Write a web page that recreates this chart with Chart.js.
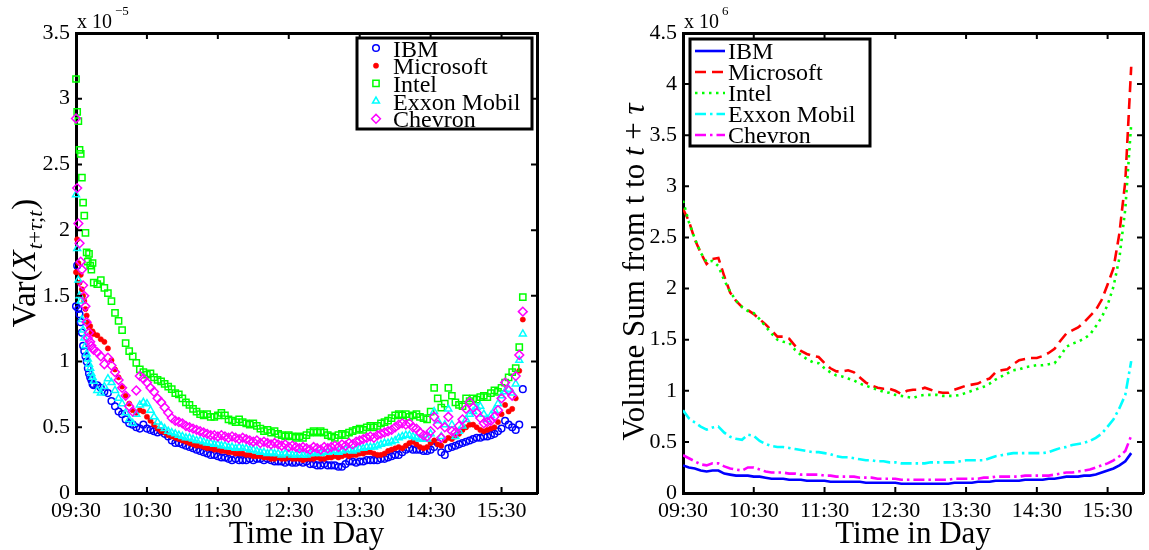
<!DOCTYPE html>
<html>
<head>
<meta charset="utf-8">
<script src="https://cdn.jsdelivr.net/npm/chart.js@4.4.0/dist/chart.umd.min.js"></script>
<style>
  html, body { margin: 0; padding: 0; background: #fff; }
  #wrap { position: relative; width: 1149px; height: 550px; overflow: hidden; }
  #left { position: absolute; left: 0; top: 0; width: 600px; height: 550px; }
  #right { position: absolute; left: 600px; top: 0; width: 549px; height: 550px; }
</style>
</head>
<body>
<div id="wrap">
  <canvas id="left" width="600" height="550"></canvas>
  <canvas id="right" width="549" height="550"></canvas>
</div>
<script>
// ---------- data ----------
const companies = ['IBM', 'Microsoft', 'Intel', 'Exxon Mobil', 'Chevron'];

const timeTickMinutes = [0, 60, 120, 180, 240, 300, 360];
const timeTickLabels  = ['09:30', '10:30', '11:30', '12:30', '13:30', '14:30', '15:30'];

const varTickValues = [0, 0.5, 1, 1.5, 2, 2.5, 3, 3.5];
const varTickLabels = ['0', '0.5', '1', '1.5', '2', '2.5', '3', '3.5'];
const volTickValues = [0, 0.5, 1, 1.5, 2, 2.5, 3, 3.5, 4, 4.5];
const volTickLabels = ['0', '0.5', '1', '1.5', '2', '2.5', '3', '3.5', '4', '4.5'];

// left panel: minutes after 09:30, variance in units of 1e-5
const varMinutes = [
  0, 1, 2, 3, 4, 5, 6, 7, 8, 9, 10, 11, 12, 13, 14,
  15, 18, 21, 24, 27,
  30, 33, 36, 39, 42, 45, 48, 51, 54, 57,
  60, 63, 66, 69, 72, 75, 78, 81, 84, 87,
  90, 93, 96, 99, 102, 105, 108, 111, 114, 117,
  120, 123, 126, 129, 132, 135, 138, 141, 144, 147,
  150, 153, 156, 159, 162, 165, 168, 171, 174, 177,
  180, 183, 186, 189, 192, 195, 198, 201, 204, 207,
  210, 213, 216, 219, 222, 225, 228, 231, 234, 237,
  240, 243, 246, 249, 252, 255, 258, 261, 264, 267,
  270, 273, 276, 279, 282, 285, 288, 291, 294, 297,
  300, 303, 306, 309, 312, 315, 318, 321, 324, 327,
  330, 333, 336, 339, 342, 345, 348, 351, 354, 357,
  360, 363, 366, 369, 372, 375, 378
];
const varIBM = [
  1.42, 1.73, 1.40, 1.36, 1.30, 1.22, 1.12, 1.08, 1.04, 1.00, 0.95, 0.91, 0.88, 0.86, 0.83,
  0.82, 0.82, 0.80, 0.77, 0.76,
  0.70, 0.66, 0.62, 0.60, 0.56, 0.53, 0.52, 0.50, 0.49, 0.52,
  0.49, 0.48, 0.47, 0.46, 0.47, 0.45, 0.43, 0.40, 0.38, 0.38,
  0.37, 0.36, 0.35, 0.34, 0.33, 0.32, 0.31, 0.30, 0.29, 0.29,
  0.28, 0.27, 0.27, 0.26, 0.25, 0.26, 0.25, 0.25, 0.25, 0.26,
  0.25, 0.26, 0.26, 0.25, 0.26, 0.25, 0.24, 0.24, 0.24, 0.23,
  0.24, 0.23, 0.23, 0.24, 0.23, 0.24, 0.22, 0.22, 0.21, 0.21,
  0.22, 0.21, 0.21, 0.21, 0.20, 0.20, 0.22, 0.24, 0.24, 0.23,
  0.24, 0.24, 0.25, 0.25, 0.25, 0.25, 0.26, 0.26, 0.27, 0.28,
  0.29, 0.29, 0.31, 0.33, 0.34, 0.33, 0.33, 0.33, 0.32, 0.32,
  0.33, 0.35, 0.38, 0.31, 0.29, 0.34, 0.35, 0.36, 0.37, 0.38,
  0.39, 0.40, 0.41, 0.42, 0.42, 0.43, 0.43, 0.44, 0.45, 0.47,
  0.49, 0.55, 0.52, 0.50, 0.48, 0.52, 0.79
];
const varMicrosoft = [
  1.68, 1.93, 1.75, 1.60, 1.66, 1.55, 1.50, 1.46, 1.40, 1.35, 1.30, 1.26, 1.27, 1.22, 1.23,
  1.21, 1.20, 1.17, 1.15, 1.10,
  1.01, 0.94, 0.88, 0.81, 0.74, 0.68, 0.63, 0.61, 0.63, 0.62,
  0.58, 0.55, 0.52, 0.49, 0.47, 0.46, 0.44, 0.43, 0.42, 0.41,
  0.40, 0.39, 0.38, 0.37, 0.36, 0.36, 0.35, 0.34, 0.34, 0.33,
  0.33, 0.32, 0.32, 0.31, 0.31, 0.30, 0.30, 0.30, 0.29, 0.29,
  0.28, 0.28, 0.28, 0.27, 0.27, 0.26, 0.26, 0.27, 0.26, 0.26,
  0.27, 0.26, 0.26, 0.26, 0.25, 0.26, 0.26, 0.26, 0.27, 0.26,
  0.26, 0.27, 0.27, 0.28, 0.27, 0.28, 0.29, 0.28, 0.29, 0.29,
  0.30, 0.30, 0.31, 0.31, 0.30, 0.29, 0.29, 0.30, 0.32, 0.33,
  0.34, 0.35, 0.34, 0.36, 0.38, 0.39, 0.37, 0.35, 0.34, 0.35,
  0.38, 0.40, 0.37, 0.36, 0.40, 0.42, 0.41, 0.43, 0.45, 0.48,
  0.50, 0.52, 0.52, 0.50, 0.48, 0.47, 0.48, 0.49, 0.50, 0.54,
  0.60, 0.67, 0.62, 0.64, 0.72, 0.93, 1.32
];
const varIntel = [
  3.15, 2.90, 2.83, 2.61, 2.58, 2.40, 2.21, 2.11, 1.98, 1.83, 1.76, 1.82, 1.73, 1.70, 1.75,
  1.60, 1.59, 1.62, 1.56, 1.52,
  1.46, 1.37, 1.31, 1.24, 1.14, 1.08, 1.04, 0.99, 0.94, 0.92,
  0.90, 0.91, 0.88, 0.86, 0.85, 0.83, 0.81, 0.79, 0.76, 0.75,
  0.72, 0.69, 0.67, 0.64, 0.62, 0.60, 0.59, 0.60, 0.58, 0.58,
  0.59, 0.61, 0.59, 0.56, 0.55, 0.54, 0.56, 0.54, 0.53, 0.52,
  0.53, 0.51, 0.49, 0.47, 0.48, 0.46, 0.47, 0.45, 0.44, 0.43,
  0.44, 0.43, 0.42, 0.43, 0.42, 0.44, 0.46, 0.47, 0.46, 0.47,
  0.46, 0.44, 0.43, 0.42, 0.44, 0.45, 0.44, 0.46, 0.47, 0.48,
  0.49, 0.48, 0.50, 0.51, 0.50, 0.51, 0.53, 0.54, 0.55, 0.57,
  0.59, 0.60, 0.59, 0.60, 0.58, 0.59, 0.60, 0.58, 0.57, 0.56,
  0.62, 0.80, 0.72, 0.65, 0.68, 0.80, 0.74, 0.69, 0.67, 0.66,
  0.72, 0.70, 0.72, 0.71, 0.73, 0.74, 0.73, 0.76, 0.78, 0.77,
  0.80, 0.84, 0.88, 0.92, 0.95, 1.11, 1.49
];
const varExxon = [
  2.27, 1.86, 1.62, 1.50, 1.46, 1.32, 1.24, 1.18, 1.12, 1.06, 1.02, 0.98, 0.95, 0.91, 0.88,
  0.85, 0.78, 0.76, 0.81, 0.87,
  0.84, 0.78, 0.72, 0.68, 0.61, 0.56, 0.53, 0.60, 0.67, 0.69,
  0.68, 0.63, 0.58, 0.54, 0.51, 0.49, 0.47, 0.46, 0.45, 0.44,
  0.43, 0.42, 0.42, 0.41, 0.40, 0.40, 0.39, 0.38, 0.38, 0.37,
  0.37, 0.36, 0.36, 0.35, 0.35, 0.34, 0.35, 0.34, 0.34, 0.33,
  0.33, 0.32, 0.31, 0.31, 0.30, 0.31, 0.30, 0.30, 0.29, 0.30,
  0.30, 0.29, 0.29, 0.30, 0.29, 0.29, 0.30, 0.30, 0.31, 0.30,
  0.31, 0.31, 0.32, 0.32, 0.31, 0.32, 0.33, 0.33, 0.32, 0.33,
  0.34, 0.34, 0.35, 0.35, 0.35, 0.36, 0.37, 0.38, 0.38, 0.39,
  0.40, 0.42, 0.43, 0.44, 0.44, 0.43, 0.42, 0.41, 0.41, 0.41,
  0.45, 0.62, 0.55, 0.43, 0.52, 0.64, 0.52, 0.43, 0.47, 0.51,
  0.56, 0.60, 0.62, 0.65, 0.66, 0.60, 0.56, 0.59, 0.63, 0.68,
  0.74, 0.77, 0.79, 0.76, 0.83, 1.01, 1.21
];
const varChevron = [
  2.85, 2.32, 2.05, 1.90, 1.76, 1.70, 1.58, 1.50, 1.42, 1.30, 1.18, 1.22, 1.15, 1.12, 1.10,
  1.09, 1.07, 1.04, 0.98, 1.03,
  0.97, 0.92, 0.86, 0.80, 0.74, 0.66, 0.62, 0.78, 0.89, 0.87,
  0.84, 0.80, 0.77, 0.72, 0.69, 0.65, 0.61, 0.57, 0.55, 0.54,
  0.53, 0.51, 0.50, 0.49, 0.48, 0.47, 0.46, 0.45, 0.44, 0.44,
  0.43, 0.44, 0.43, 0.42, 0.43, 0.42, 0.41, 0.42, 0.41, 0.40,
  0.39, 0.40, 0.38, 0.39, 0.38, 0.37, 0.38, 0.37, 0.36, 0.37,
  0.35, 0.36, 0.35, 0.34, 0.35, 0.34, 0.33, 0.35, 0.34, 0.33,
  0.35, 0.34, 0.35, 0.36, 0.35, 0.37, 0.36, 0.38, 0.37, 0.39,
  0.40, 0.41, 0.42, 0.43, 0.42, 0.44, 0.45, 0.46, 0.47, 0.48,
  0.50, 0.52, 0.53, 0.52, 0.53, 0.50, 0.49, 0.46, 0.44, 0.43,
  0.47, 0.58, 0.52, 0.42, 0.50, 0.58, 0.47, 0.46, 0.51, 0.56,
  0.64, 0.69, 0.65, 0.61, 0.57, 0.53, 0.54, 0.55, 0.58, 0.63,
  0.72, 0.84, 0.78, 0.74, 0.89, 1.05, 1.38
];

// right panel: minutes after 09:30, volume sum in units of 1e6
const volMinutes = [
  0, 5, 10, 15, 20, 25, 30, 35, 40, 45,
  50, 55, 60, 65, 70, 75, 80, 85, 90, 95,
  100, 105, 110, 115, 120, 125, 130, 135, 140, 145,
  150, 155, 160, 165, 170, 175, 180, 185, 190, 195,
  200, 205, 210, 215, 220, 225, 230, 235, 240, 245,
  250, 255, 260, 265, 270, 275, 280, 285, 290, 295,
  300, 305, 310, 315, 320, 325, 330, 335, 340, 345,
  350, 355, 360, 365, 370, 375, 380
];
const volIBM = [
  0.27, 0.25, 0.24, 0.22, 0.21, 0.22, 0.22, 0.19, 0.18, 0.17,
  0.17, 0.17, 0.16, 0.16, 0.15, 0.14, 0.14, 0.14, 0.13, 0.13,
  0.13, 0.12, 0.12, 0.12, 0.12, 0.11, 0.11, 0.11, 0.11, 0.11,
  0.11, 0.10, 0.10, 0.10, 0.10, 0.10, 0.10, 0.09, 0.09, 0.09,
  0.09, 0.09, 0.09, 0.09, 0.09, 0.09, 0.10, 0.10, 0.10, 0.10,
  0.11, 0.11, 0.11, 0.12, 0.12, 0.12, 0.12, 0.12, 0.13, 0.13,
  0.13, 0.13, 0.14, 0.14, 0.15, 0.16, 0.16, 0.16, 0.17, 0.17,
  0.18, 0.20, 0.22, 0.24, 0.27, 0.31, 0.39
];
const volMicrosoft = [
  2.78, 2.66, 2.48, 2.35, 2.24, 2.29, 2.30, 2.12, 1.96, 1.88,
  1.82, 1.79, 1.75, 1.70, 1.65, 1.59, 1.53, 1.53, 1.51, 1.44,
  1.39, 1.36, 1.34, 1.33, 1.27, 1.22, 1.19, 1.19, 1.20, 1.18,
  1.13, 1.08, 1.05, 1.03, 1.02, 1.02, 1.00, 0.97, 1.00, 1.01,
  1.01, 1.03, 1.01, 0.99, 0.98, 0.98, 1.01, 1.03, 1.05, 1.06,
  1.07, 1.10, 1.12, 1.18, 1.20, 1.21, 1.26, 1.30, 1.31, 1.32,
  1.32, 1.34, 1.37, 1.41, 1.49, 1.56, 1.59, 1.62, 1.67, 1.73,
  1.79, 1.89, 2.04, 2.20, 2.54, 3.05, 4.17
];
const volIntel = [
  2.86, 2.65, 2.49, 2.35, 2.26, 2.27, 2.22, 2.08, 1.97, 1.88,
  1.82, 1.78, 1.76, 1.70, 1.63, 1.56, 1.50, 1.48, 1.47, 1.40,
  1.35, 1.31, 1.28, 1.27, 1.22, 1.18, 1.15, 1.14, 1.12, 1.10,
  1.07, 1.05, 1.03, 1.01, 0.99, 0.98, 0.96, 0.95, 0.94, 0.93,
  0.95, 0.96, 0.96, 0.96, 0.95, 0.95, 0.95, 0.96, 0.98, 1.00,
  1.02, 1.04, 1.07, 1.11, 1.14, 1.17, 1.20, 1.21, 1.23, 1.24,
  1.25, 1.25, 1.26, 1.27, 1.34, 1.43, 1.46, 1.48, 1.51, 1.55,
  1.63, 1.72, 1.84, 2.02, 2.30, 2.78, 3.61
];
const volExxon = [
  0.81, 0.73, 0.69, 0.65, 0.62, 0.64, 0.65, 0.59, 0.55, 0.53,
  0.52, 0.57, 0.56, 0.51, 0.48, 0.46, 0.45, 0.45, 0.44, 0.43,
  0.42, 0.41, 0.40, 0.40, 0.39, 0.38, 0.36, 0.35, 0.35, 0.34,
  0.33, 0.32, 0.32, 0.31, 0.31, 0.30, 0.30, 0.29, 0.29, 0.29,
  0.29, 0.29, 0.30, 0.30, 0.30, 0.30, 0.30, 0.31, 0.32, 0.32,
  0.32, 0.32, 0.34, 0.36, 0.37, 0.38, 0.39, 0.39, 0.39, 0.39,
  0.39, 0.39, 0.40, 0.42, 0.44, 0.45, 0.47, 0.48, 0.49, 0.51,
  0.54, 0.58, 0.65, 0.72, 0.83, 0.96, 1.29
];
const volChevron = [
  0.37, 0.34, 0.31, 0.28, 0.27, 0.29, 0.29, 0.26, 0.24, 0.23,
  0.22, 0.25, 0.25, 0.23, 0.21, 0.20, 0.20, 0.20, 0.19, 0.19,
  0.18, 0.18, 0.18, 0.18, 0.17, 0.17, 0.16, 0.16, 0.16, 0.16,
  0.15, 0.15, 0.15, 0.14, 0.14, 0.14, 0.14, 0.13, 0.13, 0.13,
  0.13, 0.13, 0.13, 0.13, 0.13, 0.13, 0.14, 0.14, 0.14, 0.14,
  0.14, 0.15, 0.15, 0.16, 0.16, 0.16, 0.16, 0.16, 0.17, 0.17,
  0.17, 0.17, 0.17, 0.18, 0.19, 0.20, 0.20, 0.21, 0.22, 0.23,
  0.25, 0.27, 0.29, 0.32, 0.36, 0.41, 0.56
];

const varSeries = [varIBM, varMicrosoft, varIntel, varExxon, varChevron];
const volSeries = [volIBM, volMicrosoft, volIntel, volExxon, volChevron];

// ---------- styles ----------
const SERIF = '"Liberation Serif", "Times New Roman", Times, serif';
const colors = ['#0000ff', '#ff0000', '#00ff00', '#00ffff', '#ff00ff'];
const markers = [
  { style: 'circle',   radius: 3.3, filled: false },
  { style: 'circle',   radius: 2.6, filled: true },
  { style: 'rect',     radius: 4.4, filled: false },
  { style: 'triangle', radius: 4.0, filled: false },
  { style: 'rectRot',  radius: 4.4, filled: false }
];
const dashes = [[], [11, 6], [2.5, 4.5], [11, 4, 2.5, 4], [11, 4, 2.5, 4]];

Chart.defaults.font.family = SERIF;
Chart.defaults.color = '#000';

// inward tick marks on all four sides, MATLAB style
const boxTicks = {
  id: 'boxTicks',
  afterDraw(chart) {
    const { ctx, chartArea: a } = chart;
    const xs = chart.scales.x, ys = chart.scales.y;
    const len = 6;
    ctx.save();
    ctx.strokeStyle = '#000';
    ctx.lineWidth = 2;
    ctx.beginPath();
    xs.ticks.forEach(t => {
      const px = xs.getPixelForValue(t.value);
      ctx.moveTo(px, a.bottom); ctx.lineTo(px, a.bottom - len);
      ctx.moveTo(px, a.top);    ctx.lineTo(px, a.top + len);
    });
    ys.ticks.forEach(t => {
      const py = ys.getPixelForValue(t.value);
      ctx.moveTo(a.left, py);  ctx.lineTo(a.left + len, py);
      ctx.moveTo(a.right, py); ctx.lineTo(a.right - len, py);
    });
    ctx.stroke();
    ctx.restore();
  }
};

// rich text pieces: y-axis label with italics / subscript, and the "x 10^n" multiplier
function drawPieces(ctx, pieces, startX, baseY) {
  let x = startX;
  pieces.forEach(p => {
    ctx.font = (p.italic ? 'italic ' : '') + p.size + 'px ' + SERIF;
    ctx.fillText(p.text, x, baseY + (p.dy || 0));
    x += ctx.measureText(p.text).width + (p.gap || 0);
  });
  return x;
}
function piecesWidth(ctx, pieces) {
  let w = 0;
  pieces.forEach(p => {
    ctx.font = (p.italic ? 'italic ' : '') + p.size + 'px ' + SERIF;
    w += ctx.measureText(p.text).width + (p.gap || 0);
  });
  return w;
}

const axisText = {
  id: 'axisText',
  afterDraw(chart, args, o) {
    const { ctx, chartArea: a } = chart;
    ctx.save();
    ctx.fillStyle = '#000';
    ctx.textBaseline = 'alphabetic';
    ctx.textAlign = 'left';
    // rotated y title, centred on the plot area
    const w = piecesWidth(ctx, o.yTitle);
    ctx.translate(o.yTitleX, (a.top + a.bottom) / 2 + o.yTitleShift);
    ctx.rotate(-Math.PI / 2);
    drawPieces(ctx, o.yTitle, -w / 2, 0);
    ctx.setTransform(1, 0, 0, 1, 0, 0);
    // exponent multiplier above the axis
    const end = drawPieces(ctx, [{ text: 'x 10', size: 20 }], a.left + 1, o.expBase);
    drawPieces(ctx, [{ text: o.exponent, size: 13 }], end + 3, o.expBase - 13);
    ctx.restore();
  }
};

// legend box drawn inside the axes
const boxLegend = {
  id: 'boxLegend',
  afterDraw(chart, args, o) {
    const { ctx, chartArea: a } = chart;
    const x0 = o.fromRight ? a.right - o.dx - o.w : a.left + o.dx;
    const y0 = a.top + o.dy;
    ctx.save();
    ctx.fillStyle = '#fff';
    ctx.fillRect(x0, y0, o.w, o.h);
    chart.data.datasets.forEach((ds, i) => {
      const cy = y0 + o.first + i * o.row;
      if (o.kind === 'marker') {
        ctx.fillStyle = ds.pointBackgroundColor;
        ctx.strokeStyle = ds.pointBorderColor;
        ctx.lineWidth = ds.pointBorderWidth;
        Chart.helpers.drawPoint(ctx, {
          pointStyle: ds.pointStyle, radius: ds.pointRadius,
          borderWidth: ds.pointBorderWidth, rotation: 0
        }, x0 + o.sx, cy);
      } else {
        ctx.strokeStyle = ds.borderColor;
        ctx.lineWidth = ds.borderWidth;
        ctx.setLineDash(ds.borderDash);
        ctx.beginPath();
        ctx.moveTo(x0 + o.sx, cy);
        ctx.lineTo(x0 + o.sx + o.len, cy);
        ctx.stroke();
        ctx.setLineDash([]);
      }
      ctx.fillStyle = '#000';
      ctx.font = o.fontSize + 'px ' + SERIF;
      ctx.textBaseline = 'alphabetic';
      ctx.fillText(ds.label, x0 + o.tx, cy + o.base);
    });
    ctx.strokeStyle = '#000';
    ctx.lineWidth = 3;
    ctx.strokeRect(x0, y0, o.w, o.h);
    ctx.restore();
  }
};

function timeAxis() {
  return {
    type: 'linear', min: 0, max: 390,
    afterFit: s => { s.height = 57; },
    afterBuildTicks: s => { s.ticks = timeTickMinutes.map(v => ({ value: v })); },
    ticks: {
      font: { size: 22 }, color: '#000', padding: 5, maxRotation: 0, autoSkip: false,
      callback: v => timeTickLabels[timeTickMinutes.indexOf(v)]
    },
    grid: { display: false, drawTicks: false },
    border: { display: true, width: 3, color: '#000' },
    title: {
      display: true, text: 'Time in Day', color: '#000',
      font: { size: 31, lineHeight: 1 }, padding: { top: 0, bottom: 0 }
    }
  };
}
function valueAxis(max, values, labels, width) {
  return {
    type: 'linear', min: 0, max: max,
    afterFit: s => { s.width = width; },
    afterBuildTicks: s => { s.ticks = values.map(v => ({ value: v })); },
    ticks: {
      font: { size: 22 }, color: '#000', padding: 6,
      callback: v => labels[values.indexOf(v)]
    },
    grid: { display: false, drawTicks: false },
    border: { display: true, width: 3, color: '#000' }
  };
}
function mirrorAxes(max) {
  return {
    x2: {
      type: 'linear', position: 'top', min: 0, max: 390,
      afterFit: s => { s.height = 0; },
      ticks: { display: false }, grid: { display: false, drawTicks: false },
      border: { display: true, width: 3, color: '#000' }
    },
    y2: {
      type: 'linear', position: 'right', min: 0, max: max,
      afterFit: s => { s.width = 0; },
      ticks: { display: false }, grid: { display: false, drawTicks: false },
      border: { display: true, width: 3, color: '#000' }
    }
  };
}

// ---------- left: variance scatter ----------
new Chart(document.getElementById('left'), {
  type: 'scatter',
  data: {
    datasets: companies.map((name, i) => ({
      label: name,
      data: varMinutes.map((m, k) => ({ x: m, y: varSeries[i][k] })),
      pointStyle: markers[i].style,
      pointRadius: markers[i].radius,
      pointBorderWidth: markers[i].filled ? 0.6 : 1.5,
      pointBorderColor: colors[i],
      pointBackgroundColor: markers[i].filled ? colors[i] : 'rgba(0,0,0,0)',
      showLine: false,
      clip: false,
      order: companies.length - i
    }))
  },
  options: {
    responsive: false, animation: false, devicePixelRatio: 1,
    layout: { padding: { top: 33, right: 63, left: 0, bottom: 0 }, autoPadding: false },
    plugins: {
      legend: { display: false }, tooltip: { enabled: false },
      axisText: {
        yTitleX: 35, yTitleShift: 0, expBase: 28, exponent: '\u22125',
        yTitle: [
          { text: 'Var(', size: 33 },
          { text: 'X', size: 33, italic: true, gap: 1 },
          { text: 't', size: 22, italic: true, dy: 7 },
          { text: '+', size: 22, dy: 7 },
          { text: '\u03c4', size: 22, italic: true, dy: 7 },
          { text: ';', size: 22, dy: 7 },
          { text: 't', size: 22, italic: true, dy: 7, gap: 1 },
          { text: ')', size: 33 }
        ]
      },
      boxLegend: {
        kind: 'marker', fromRight: true, dx: 5, dy: 5, w: 175, h: 91,
        first: 10, row: 17.7, sx: 19, tx: 36, base: 8.5, fontSize: 24
      }
    },
    scales: Object.assign({
      x: timeAxis(),
      y: valueAxis(3.5, varTickValues, varTickLabels, 76)
    }, mirrorAxes(3.5))
  },
  plugins: [boxTicks, axisText, boxLegend]
});

// ---------- right: volume lines ----------
new Chart(document.getElementById('right'), {
  type: 'line',
  data: {
    datasets: companies.map((name, i) => ({
      label: name,
      data: volMinutes.map((m, k) => ({ x: m, y: volSeries[i][k] })),
      borderColor: colors[i],
      backgroundColor: colors[i],
      borderWidth: 2.6,
      borderDash: dashes[i],
      pointRadius: 0,
      tension: 0,
      fill: false,
      order: companies.length - i
    }))
  },
  options: {
    responsive: false, animation: false, devicePixelRatio: 1,
    layout: { padding: { top: 33, right: 6, left: 0, bottom: 0 }, autoPadding: false },
    plugins: {
      legend: { display: false }, tooltip: { enabled: false },
      axisText: {
        yTitleX: 44, yTitleShift: 9, expBase: 28, exponent: '6',
        yTitle: [
          { text: 'Volume Sum from t to ', size: 31 },
          { text: 't', size: 31, italic: true },
          { text: ' + ', size: 31 },
          { text: '\u03c4', size: 31, italic: true }
        ]
      },
      boxLegend: {
        kind: 'line', fromRight: false, dx: 7, dy: 6, w: 180, h: 107,
        first: 12, row: 21, sx: 5, len: 30, tx: 38, base: 7.5, fontSize: 24
      }
    },
    scales: Object.assign({
      x: timeAxis(),
      y: valueAxis(4.5, volTickValues, volTickLabels, 83)
    }, mirrorAxes(4.5))
  },
  plugins: [boxTicks, axisText, boxLegend]
});
</script>
</body>
</html>
